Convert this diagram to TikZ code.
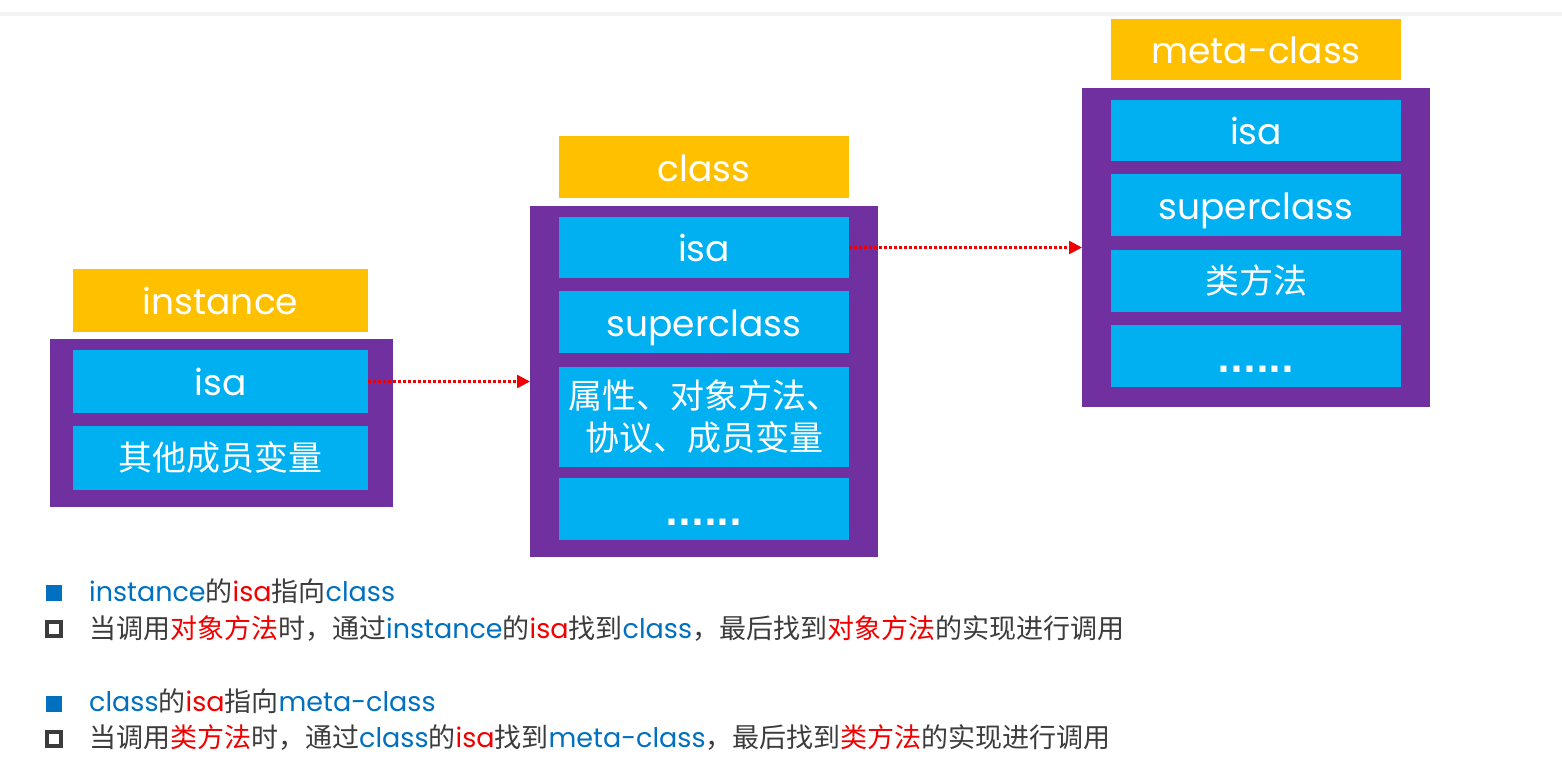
\documentclass[tikz,border=0pt]{standalone}
\usepackage{fontspec}
\setmainfont{Poppins}
\newfontfamily\cjk{Noto Sans CJK SC}
\newfontfamily\dotfont{DejaVu Sans}
\usetikzlibrary{arrows.meta}
\definecolor{ylw}{HTML}{FFC000}
\definecolor{prp}{HTML}{7030A0}
\definecolor{cyn}{HTML}{00B0F0}
\definecolor{tblue}{HTML}{0070C0}
\definecolor{tred}{HTML}{F00000}
\definecolor{tgray}{HTML}{3C3C3C}
\definecolor{topline}{HTML}{F3F3F3}
\newcommand\zh[1]{{\cjk #1}}
\begin{document}
\begin{tikzpicture}[x=1pt,y=-1pt,
  frame/.style={fill=prp, inner sep=0pt, outer sep=0pt},
  title/.style={fill=ylw, inner sep=0pt, outer sep=0pt, text=white, font=\fontsize{36}{40}\selectfont, text height=28pt, text depth=0pt},
  field/.style={fill=cyn, inner sep=0pt, outer sep=0pt, text=white, font=\fontsize{36}{40}\selectfont, text height=28pt, text depth=0pt},
  zhfield/.style={fill=cyn, inner sep=0pt, outer sep=0pt, text=white, font=\cjk\fontsize{34}{42}\selectfont, align=center},
  dotsfield/.style={field, font=\dotfont\bfseries\fontsize{34}{40}\selectfont, text height=32pt, text depth=0pt},
  link/.style={draw=tred, line width=2.5pt, dash pattern=on 2.5pt off 2.5pt, -{Triangle[length=13pt,width=13pt]}},
  note/.style={anchor=base west, inner sep=0pt, text=tgray, font=\fontsize{27}{30}\selectfont},
  fullbullet/.style={fill=tblue, inner sep=0pt, minimum width=16pt, minimum height=16pt},
  openbullet/.style={draw=tgray, fill=white, line width=3.5pt, inner sep=0pt, minimum width=14pt, minimum height=14pt}
]
\useasboundingbox (0,0) rectangle (1562,756);
\fill[white] (0,0) rectangle (1562,756);
\fill[topline] (0,12) rectangle (1562,16);

% instance
\node[frame, minimum width=343pt, minimum height=168pt] (iframe) at (221.5,423) {};
\node[title, minimum width=295pt, minimum height=63pt] (ititle) at (220.5,300.5) {instance};
\node[field, minimum width=295pt, minimum height=63pt] (iisa) at (220.5,381.5) {isa};
\node[zhfield, minimum width=295pt, minimum height=64pt] (iother) at (220.5,458) {其他成员变量};

% class
\node[frame, minimum width=348pt, minimum height=351pt] (cframe) at (704,381.5) {};
\node[title, minimum width=290pt, minimum height=62pt] (ctitle) at (704,167) {class};
\node[field, minimum width=290pt, minimum height=61pt] (cisa) at (704,247.5) {isa};
\node[field, minimum width=290pt, minimum height=62pt] (csuper) at (704,322) {superclass};
\node[zhfield, minimum width=290pt, minimum height=100pt] (cattr) at (704,417) {属性、对象方法、\\协议、成员变量};
\node[dotsfield, minimum width=290pt, minimum height=62pt] (cdots) at (704,509) {......};

% meta-class
\node[frame, minimum width=348pt, minimum height=319pt] (mframe) at (1256,247.5) {};
\node[title, minimum width=290pt, minimum height=61pt] (mtitle) at (1256,49.5) {meta-class};
\node[field, minimum width=290pt, minimum height=61pt] (misa) at (1256,130.5) {isa};
\node[field, minimum width=290pt, minimum height=62pt] (msuper) at (1256,205) {superclass};
\node[zhfield, minimum width=290pt, minimum height=62pt] (mmeth) at (1256,281) {类方法};
\node[dotsfield, minimum width=290pt, minimum height=62pt] (mdots) at (1256,356) {......};

% links
\draw[link] (iisa.east) -- (iisa.east -| cframe.west);
\draw[link] (cisa.east) -- (cisa.east -| mframe.west);

% notes
\node[fullbullet] (b1) at (53.5,593) {};
\node[note] (n1) at (89,601) {\textcolor{tblue}{instance}\zh{的}\textcolor{tred}{isa}\zh{指向}\textcolor{tblue}{class}};
\node[openbullet] (b2) at (54,629) {};
\node[note] (n2) at (89,638) {\zh{当调用}\textcolor{tred}{\zh{对象方法}}\zh{时，通过}\textcolor{tblue}{instance}\zh{的}\textcolor{tred}{isa}\zh{找到}\textcolor{tblue}{class}\zh{，最后找到}\textcolor{tred}{\zh{对象方法}}\zh{的实现进行调用}};
\node[fullbullet] (b3) at (53.5,703.5) {};
\node[note] (n3) at (89,711) {\textcolor{tblue}{class}\zh{的}\textcolor{tred}{isa}\zh{指向}\textcolor{tblue}{meta-class}};
\node[openbullet] (b4) at (54,739) {};
\node[note] (n4) at (89,747) {\zh{当调用}\textcolor{tred}{\zh{类方法}}\zh{时，通过}\textcolor{tblue}{class}\zh{的}\textcolor{tred}{isa}\zh{找到}\textcolor{tblue}{meta-class}\zh{，最后找到}\textcolor{tred}{\zh{类方法}}\zh{的实现进行调用}};
\end{tikzpicture}
\end{document}
